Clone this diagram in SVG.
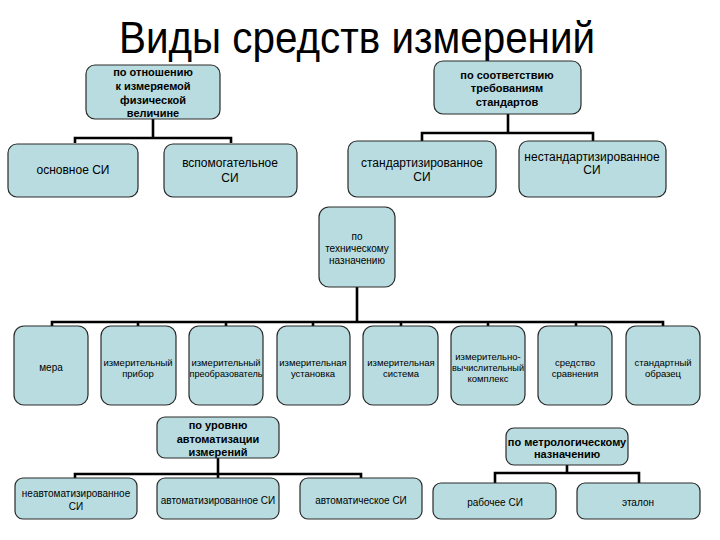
<svg xmlns="http://www.w3.org/2000/svg" width="720" height="540" viewBox="0 0 720 540">
<style>
.b{fill:#b8dcdf;stroke:#2a2a2a;stroke-width:1.2}
text{font-family:"Liberation Sans",Arial,sans-serif;fill:#000;text-anchor:middle;dominant-baseline:central}
.h{font-weight:bold;font-size:11px}
.m{font-size:12px}
.s{font-size:9.5px}
.t{font-size:10px}
.c{fill:none;stroke:#000;stroke-width:2.6}
</style>
<rect width="720" height="540" fill="#fff"/>
<text x="357" y="53" font-size="44" textLength="476" lengthAdjust="spacingAndGlyphs" style="dominant-baseline:alphabetic">Виды средств измерений</text>
<g id="connectors">
<path class="c" d="M153 119V138M75 143V138H231V143"/>
<path class="c" d="M508 114V133M422 141V133H593V141"/>
<path class="c" d="M357 287V322M52 326V322H663V326M138 322V326M226 322V326M313 322V326M401 322V326M488 322V326M576 322V326"/>
<path class="c" d="M218 458V474M75 478V474H361V478M218 474V478"/>
<path class="c" d="M567 465V473M495 483V473H639V483"/>
</g>
<g id="n-phys"><rect class="b" x="86" y="65" width="134" height="54" rx="9"/>
<text class="h" x="153" y="72">по отношению</text><text class="h" x="153" y="86">к измеряемой</text><text class="h" x="153" y="100">физической</text><text class="h" x="153" y="113">величине</text></g>
<g id="n-osn"><rect class="b" x="8" y="144" width="130" height="53" rx="9"/><text class="m" x="73" y="170">основное СИ</text></g>
<g id="n-vsp"><rect class="b" x="164" y="144" width="133" height="53" rx="9"/><text class="m" x="230" y="163">вспомогательное</text><text class="m" x="230" y="178">СИ</text></g>
<g id="n-std"><rect class="b" x="434" y="61" width="147" height="53" rx="9"/>
<text class="h" x="507" y="75">по соответствию</text><text class="h" x="507" y="88">требованиям</text><text class="h" x="507" y="102">стандартов</text></g>
<g id="n-stdsi"><rect class="b" x="348" y="141" width="148" height="56" rx="9"/><text class="m" x="422" y="163">стандартизированное</text><text class="m" x="422" y="177">СИ</text></g>
<g id="n-nstd"><rect class="b" x="519" y="141" width="147" height="56" rx="9"/><text class="m" x="592" y="157">нестандартизированное</text><text class="m" x="592" y="170">СИ</text></g>
<g id="n-tech"><rect class="b" x="319" y="207" width="76" height="80" rx="10"/>
<text class="t" x="357" y="236">по</text><text class="t" x="357" y="248">техническому</text><text class="t" x="357" y="260">назначению</text></g>
<g id="n-mera"><rect class="b" x="14" y="326" width="74" height="79" rx="10"/><text class="t" x="51" y="367" font-size="11">мера</text></g>
<g id="n-prib"><rect class="b" x="101" y="326" width="75" height="79" rx="10"/><text class="s" x="138" y="362">измерительный</text><text class="s" x="138" y="373">прибор</text></g>
<g id="n-preob"><rect class="b" x="189" y="326" width="74" height="79" rx="10"/><text class="s" x="226" y="362">измерительный</text><text class="s" x="226" y="373" textLength="73" lengthAdjust="spacingAndGlyphs">преобразователь</text></g>
<g id="n-ust"><rect class="b" x="277" y="326" width="73" height="79" rx="10"/><text class="s" x="313" y="362">измерительная</text><text class="s" x="313" y="373">установка</text></g>
<g id="n-sys"><rect class="b" x="363" y="326" width="75" height="79" rx="10"/><text class="s" x="401" y="362">измерительная</text><text class="s" x="401" y="373">система</text></g>
<g id="n-ivk"><rect class="b" x="451" y="326" width="74" height="79" rx="10"/><text class="s" x="488" y="356">измерительно-</text><text class="s" x="488" y="367" textLength="72" lengthAdjust="spacingAndGlyphs">вычислительный</text><text class="s" x="488" y="378">комплекс</text></g>
<g id="n-sr"><rect class="b" x="538" y="326" width="74" height="79" rx="10"/><text class="s" x="575" y="362">средство</text><text class="s" x="575" y="373">сравнения</text></g>
<g id="n-obr"><rect class="b" x="626" y="326" width="74" height="79" rx="10"/><text class="s" x="663" y="362">стандартный</text><text class="s" x="663" y="373">образец</text></g>
<g id="n-auto"><rect class="b" x="157" y="417" width="122" height="41" rx="8"/>
<text class="h" x="218" y="425">по уровню</text><text class="h" x="218" y="439">автоматизации</text><text class="h" x="218" y="452">измерений</text></g>
<g id="n-neavt"><rect class="b" x="15" y="478" width="122" height="41" rx="8"/><text class="t" x="76" y="493">неавтоматизированное</text><text class="t" x="76" y="506">СИ</text></g>
<g id="n-avt"><rect class="b" x="157" y="478" width="122" height="41" rx="8"/><text class="t" x="218" y="500">автоматизированное СИ</text></g>
<g id="n-avtom"><rect class="b" x="300" y="478" width="122" height="41" rx="8"/><text class="t" x="361" y="500">автоматическое СИ</text></g>
<g id="n-metr"><rect class="b" x="506" y="428" width="122" height="37" rx="8"/>
<text class="h" x="567" y="442" font-size="10.5">по метрологическому</text><text class="h" x="567" y="454" font-size="10.5">назначению</text></g>
<g id="n-rab"><rect class="b" x="433" y="483" width="123" height="36" rx="8"/><text class="t" x="495" y="502">рабочее СИ</text></g>
<g id="n-etal"><rect class="b" x="577" y="483" width="123" height="36" rx="8"/><text class="t" x="638" y="502">эталон</text></g>
</svg>
